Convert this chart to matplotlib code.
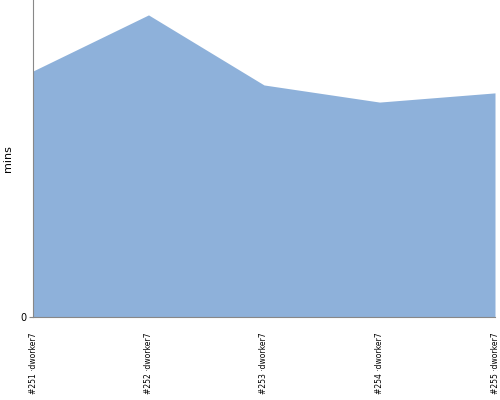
import matplotlib
matplotlib.use("Agg")
import matplotlib.pyplot as plt
from matplotlib import font_manager

builds = ["#251 ·dworker7", "#252 ·dworker7", "#253 ·dworker7", "#254 ·dworker7", "#255 ·dworker7"]
mins = [7.76, 9.53, 7.32, 6.78, 7.07]
y_max = 10.0

names = {f.name for f in font_manager.fontManager.ttflist}
fam = "DejaVu Sans Condensed" if "DejaVu Sans Condensed" in names else "DejaVu Sans"

fig = plt.figure(figsize=(5, 4), dpi=100)
ax = fig.add_axes([0.066, 0.2075, 0.924, 0.7925])
x = list(range(len(builds)))
ax.fill_between(x, 0, mins, color="#8eb1da", linewidth=0)
ax.set_xlim(0, len(builds) - 1)
ax.set_ylim(0, y_max)
ax.set_xticks(x)
ax.set_xticklabels(builds, rotation=90, fontsize=5.5, family=fam, va="top")
ax.set_yticks([0])
ax.set_yticklabels(["0"], fontsize=7)
ax.tick_params(axis="x", length=0, pad=11)
ax.tick_params(axis="y", length=3, color="#888888", pad=2)
for s in ["top", "right"]:
    ax.spines[s].set_visible(False)
ax.spines["left"].set_color("#888888")
ax.spines["bottom"].set_color("#888888")
ax.set_ylabel("mins", fontsize=8, labelpad=5)
fig.savefig("out.png", dpi=100)
